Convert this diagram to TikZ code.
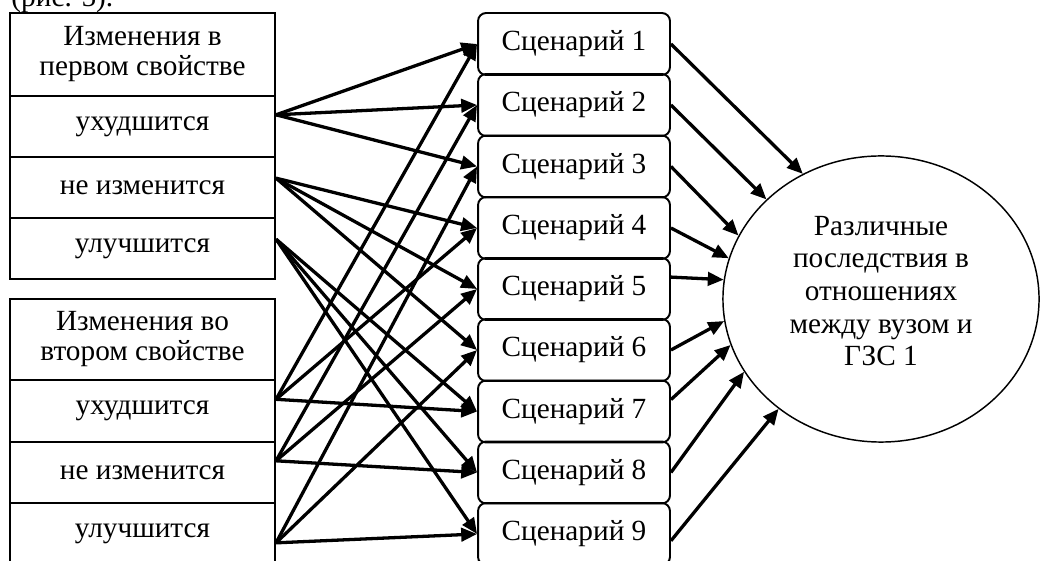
\documentclass[tikz,border=0pt]{standalone}
\usepackage{fontspec}
\setmainfont{Liberation Serif}
\usetikzlibrary{arrows.meta, shapes.geometric}

\tikzset{
  cell/.style={rectangle, draw, line width=0.8pt, minimum width=108.7pt, minimum height=25pt, inner sep=0pt},
  head/.style={cell, minimum height=34pt, font=\fontsize{12}{12.3}\selectfont},
  scen/.style={rectangle, draw, rounded corners=3.3pt, line width=0.8pt, minimum width=78.7pt, minimum height=25.4pt, inner sep=0pt},
  link/.style={->, line width=1.35pt}
}

\begin{document}
\begin{tikzpicture} [align=center, x=0.41pt, y=-0.41pt, font=\fontsize{12}{13.4}\selectfont,
  >={Triangle[length=6.5pt, width=5.5pt]}]
\useasboundingbox (0, 0) rectangle (1040, 561);

\path (11, 7) node[anchor=base west, inner sep=0pt] (cap) {(рис. 5).}

      (142.5, 54.5) node[head] (h1) {Изменения в\\первом свойстве}
      (142.5, 126.5) node[cell] (u1) {ухудшится}
      (142.5, 187.5) node[cell] (n1) {не изменится}
      (142.5, 248.5) node[cell] (b1) {улучшится}

      (142.5, 339.5) node[head, minimum height=33.2pt] (h2) {Изменения во\\втором свойстве}
      (142.5, 411) node[cell] (u2) {ухудшится}
      (142.5, 472.5) node[cell] (n2) {не изменится}
      (142.5, 533.5) node[cell] (b2) {улучшится}

      (574, 44) node[scen] (s1) {Сценарий 1}
      (574, 105) node[scen] (s2) {Сценарий 2}
      (574, 166.5) node[scen] (s3) {Сценарий 3}
      (574, 228) node[scen] (s4) {Сценарий 4}
      (574, 289) node[scen] (s5) {Сценарий 5}
      (574, 350) node[scen] (s6) {Сценарий 6}
      (574, 411.5) node[scen] (s7) {Сценарий 7}
      (574, 472.5) node[scen] (s8) {Сценарий 8}
      (574, 534) node[scen] (s9) {Сценарий 9}

      (881, 299) node[ellipse, draw, line width=0.6pt, minimum width=129.6pt,
                      minimum height=117.3pt, inner sep=0pt] (res)
                 {Различные\\последствия в\\отношениях\\между вузом и\\ГЗС 1\\[-6.8pt]};

% first property
\draw[link] (u1.5) to (s1.west);
\draw[link] (u1.5) to (s2.west);
\draw[link] (u1.5) to (s3.west);
\draw[link] (n1.4) to (s4.west);
\draw[link] (n1.4) to (s5.west);
\draw[link] (n1.4) to (s6.west);
\draw[link] (b1.4) to (s7.west);
\draw[link] (b1.4) to (s8.west);
\draw[link] (b1.4) to (s9.west);

% second property
\draw[link] (u2.5) to (s1.west);
\draw[link] (u2.5) to (s4.west);
\draw[link] (u2.5) to (s7.west);
\draw[link] (n2.5) to (s2.west);
\draw[link] (n2.5) to (s5.west);
\draw[link] (n2.5) to (s8.west);
\draw[link] (b2.-4) to (s3.west);
\draw[link] (b2.-4) to (s6.west);
\draw[link] (b2.-4) to (s9.west);

% scenarios to result
\draw[link] (s1.east) to (res.122);
\draw[link] (s2.east) to (res.139);
\draw[link] (s3.east) to (res.156);
\draw[link] (s4.east) to (res.165);
\draw[link] (s5.7) to (res.173);
\draw[link] (s6.east) to (res.188);
\draw[link] (s7.7) to (res.197);
\draw[link] (s8.east) to (res.208);
\draw[link] (s9.-4) to (res.227);

\end{tikzpicture}
\end{document}
